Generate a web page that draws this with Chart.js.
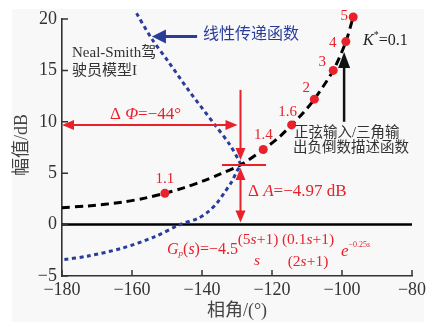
<!DOCTYPE html>
<html>
<head>
<meta charset="utf-8">
<script src="https://cdn.jsdelivr.net/npm/chart.js@4/dist/chart.umd.min.js"></script>
<style>
  html, body { margin: 0; padding: 0; background: #fff; }
  canvas { display: block; }
</style>
</head>
<body>
<canvas id="nichols" width="434" height="323"></canvas>
<script>
// 坐标轴刻度
const xTicks = [-180, -160, -140, -120, -100, -80];
const yTicks = [-5, 0, 5, 10, 15, 20];

// 线性传递函数 (Nichols 曲线)
const linPhase = [-158.7, -154.4, -149.6, -143.9, -136.3, -132.0, -129.6, -129.0, -130.1, -131.5, -133.4, -135.8, -138.2, -141.1, -146.3, -153.4, -162.9, -172.5, -180];
const linGain  = [20.55, 18.1, 15.85, 13.1, 9.7, 7.75, 6.3, 5.8, 5.16, 4.18, 3.21, 2.07, 1.26, 0.61, 0, -1.17, -2.3, -3.05, -3.43];

// 负倒数描述函数
const dfPhase = [-180, -172.5, -162.9, -156, -150.6, -145, -139.6, -134.9, -129.0, -122.5, -118, -114.4, -111, -107.9, -102.5, -98.9, -96.8];
const dfGain  = [1.65, 1.82, 2.17, 2.6, 3.05, 3.6, 4.25, 4.9, 5.8, 7.3, 8.5, 9.7, 10.9, 12.2, 15.0, 17.8, 20.2];

// 幅值标记点
const ampLabels = ['1.1', '1.4', '1.6', '2', '3', '4', '5'];
const ampPhase  = [-150.6, -122.5, -114.4, -107.9, -102.5, -98.9, -96.8];
const ampGain   = [3.05, 7.3, 9.7, 12.2, 15.0, 17.8, 20.2];
const ampLabelOffset = [[0, -14], [0, -14], [-4, -13], [-8, -11], [-11, -8], [-13, 1], [-9, -1]];

// 交点与裕度
const crossPhase = -129.0;
const crossGain = 5.8;

const RED = '#e8212b';
const BLUE = '#2a3c9a';
const SERIF = '"Liberation Serif", "Noto Sans CJK SC", serif';

function toPoints(xs, ys) {
    return xs.map((x, i) => ({ x: x, y: ys[i] }));
}

function arrowHead(ctx, x1, y1, x2, y2, len, hw) {
    const a = Math.atan2(y2 - y1, x2 - x1);
    ctx.beginPath();
    ctx.moveTo(x2, y2);
    ctx.lineTo(x2 - len * Math.cos(a) + hw * Math.sin(a), y2 - len * Math.sin(a) - hw * Math.cos(a));
    ctx.lineTo(x2 - len * Math.cos(a) - hw * Math.sin(a), y2 - len * Math.sin(a) + hw * Math.cos(a));
    ctx.closePath();
    ctx.fill();
}

function arrow(ctx, x1, y1, x2, y2, color, width, len, hw, both) {
    ctx.save();
    ctx.strokeStyle = color;
    ctx.fillStyle = color;
    ctx.lineWidth = width;
    const a = Math.atan2(y2 - y1, x2 - x1);
    const sx = both ? x1 + (len - 2) * Math.cos(a) : x1;
    const sy = both ? y1 + (len - 2) * Math.sin(a) : y1;
    ctx.beginPath();
    ctx.moveTo(sx, sy);
    ctx.lineTo(x2 - (len - 2) * Math.cos(a), y2 - (len - 2) * Math.sin(a));
    ctx.stroke();
    arrowHead(ctx, x1, y1, x2, y2, len, hw);
    if (both) arrowHead(ctx, x2, y2, x1, y1, len, hw);
    ctx.restore();
}

// 混排文字: [text, size, italic, dy]
function runs(ctx, x, y, parts, color, center) {
    ctx.save();
    ctx.fillStyle = color;
    ctx.textBaseline = 'middle';
    ctx.textAlign = 'left';
    let w = 0;
    parts.forEach(p => {
        ctx.font = (p[2] ? 'italic ' : '') + p[1] + 'px ' + SERIF;
        w += ctx.measureText(p[0]).width;
    });
    let cx = center ? x - w / 2 : x;
    parts.forEach(p => {
        ctx.font = (p[2] ? 'italic ' : '') + p[1] + 'px ' + SERIF;
        ctx.fillText(p[0], cx, y + (p[3] || 0));
        cx += ctx.measureText(p[0]).width;
    });
    ctx.restore();
}

function text(ctx, s, x, y, size, color, align) {
    ctx.save();
    ctx.font = size + 'px ' + SERIF;
    ctx.fillStyle = color;
    ctx.textAlign = align || 'left';
    ctx.textBaseline = 'middle';
    ctx.fillText(s, x, y);
    ctx.restore();
}

const decor = {
    id: 'decor',
    beforeDraw(chart) {
        const ctx = chart.ctx;
        ctx.save();
        ctx.fillStyle = '#fff';
        ctx.fillRect(0, 0, chart.width, chart.height);
        ctx.fillStyle = '#f8f8f8';
        ctx.fillRect(12, 9, 412, 313);
        ctx.restore();
    },
    afterDatasetsDraw(chart) {
        const ctx = chart.ctx;
        const xs = chart.scales.x, ys = chart.scales.y;
        const px = v => xs.getPixelForValue(v);
        const py = v => ys.getPixelForValue(v);
        const area = chart.chartArea;

        // 向内的刻度线
        ctx.save();
        ctx.strokeStyle = '#333';
        ctx.lineWidth = 1.5;
        ctx.beginPath();
        xTicks.forEach(v => { ctx.moveTo(px(v), area.bottom); ctx.lineTo(px(v), area.bottom - 6); });
        yTicks.forEach(v => { ctx.moveTo(area.left, py(v)); ctx.lineTo(area.left + 6, py(v)); });
        ctx.stroke();
        ctx.restore();

        // 幅值标签
        chart.getDatasetMeta(0).data.forEach((pt, i) => {
            const o = ampLabelOffset[i];
            text(ctx, ampLabels[i], pt.x + o[0], pt.y + o[1], 15, RED, 'center');
        });

        // 相位裕度 / 幅值裕度
        const cx = px(crossPhase), cy = py(crossGain);
        arrow(ctx, cx - 3, py(9.7), area.left, py(9.7), RED, 2, 12, 5, true);
        arrow(ctx, cx, py(13.1), cx, cy - 5, RED, 2, 12, 5, false);
        ctx.save();
        ctx.strokeStyle = RED;
        ctx.lineWidth = 2;
        ctx.beginPath();
        ctx.moveTo(px(-134.3), cy);
        ctx.lineTo(px(-121.7), cy);
        ctx.stroke();
        ctx.restore();
        arrow(ctx, cx, cy + 3, cx, py(0.2), RED, 2, 12, 5, true);

        runs(ctx, 110, 115, [['Δ ', 17], ['Φ', 17, true], ['=−44°', 17]], RED);
        runs(ctx, 248, 192, [['Δ ', 17], ['A', 17, true], ['=−4.97 dB', 17]], RED);

        // 传递函数表达式
        runs(ctx, 167, 250, [['G', 16, true], ['p', 9, true, 4], ['(', 16], ['s', 16, true], [')=−4.5', 16]], RED);
        runs(ctx, 258, 240, [['(5', 15.5], ['s', 15.5, true], ['+1)', 15.5]], RED, true);
        runs(ctx, 257, 261, [['s', 15.5, true]], RED, true);
        runs(ctx, 308, 240, [['(0.1', 15.5], ['s', 15.5, true], ['+1)', 15.5]], RED, true);
        runs(ctx, 308, 262, [['(2', 15.5], ['s', 15.5, true], ['+1)', 15.5]], RED, true);
        runs(ctx, 341, 252, [['e', 17, true], ['−0.25', 8, false, -7], ['s', 8, true, -7]], RED);

        // 线性传递函数说明
        arrow(ctx, px(-141.4), py(18.3), px(-154.3), py(18.3), BLUE, 3, 14, 7, false);
        text(ctx, '线性传递函数', 203, 35, 16, BLUE);

        // 描述函数说明
        arrow(ctx, px(-99.4), py(10.0), px(-99.4), py(16.8), '#111', 2.5, 16, 6, false);
        text(ctx, '正弦输入/三角输', 294, 133, 14.5, '#333');
        text(ctx, '出负倒数描述函数', 293, 148, 14.5, '#333');
        runs(ctx, 363, 41, [['K', 16, true], ['*', 10, false, -6], ['=0.1', 16]], '#222');

        text(ctx, 'Neal-Smith驾', 72, 53, 15, '#333');
        text(ctx, '驶员模型I', 72, 71, 15, '#333');

        // 坐标轴标题
        text(ctx, '相角/(°)', 237, 311, 18, '#444', 'center');
        ctx.save();
        ctx.translate(22, 145);
        ctx.rotate(-Math.PI / 2);
        text(ctx, '幅值/dB', 0, 0, 18, '#444', 'center');
        ctx.restore();
    }
};

const tickLabel = v => String(v).replace('-', '−');

new Chart(document.getElementById('nichols'), {
    type: 'scatter',
    data: {
        datasets: [{
            label: '幅值',
            data: toPoints(ampPhase, ampGain),
            pointRadius: 4.5,
            pointBackgroundColor: RED,
            pointBorderWidth: 0,
            showLine: false,
            clip: false
        }, {
            label: '负倒数描述函数',
            data: toPoints(dfPhase, dfGain),
            showLine: true,
            borderColor: '#000',
            borderWidth: 3,
            borderDash: [8, 5],
            tension: 0.3,
            pointRadius: 0,
            clip: false
        }, {
            label: '线性传递函数',
            data: toPoints(linPhase, linGain),
            showLine: true,
            borderColor: BLUE,
            borderWidth: 3,
            borderDash: [4, 3.5],
            tension: 0.3,
            pointRadius: 0,
            clip: false
        }, {
            label: '0 dB',
            data: toPoints([-180, -80], [0, 0]),
            showLine: true,
            borderColor: '#000',
            borderWidth: 2.5,
            pointRadius: 0
        }]
    },
    options: {
        responsive: false,
        animation: false,
        devicePixelRatio: 1,
        layout: { padding: { top: 19, right: 22, left: 0, bottom: 0 } },
        plugins: { legend: { display: false }, tooltip: { enabled: false } },
        scales: {
            x: {
                type: 'linear',
                min: -180, max: -80,
                afterFit: s => { s.height = 47; },
                afterBuildTicks: s => { s.ticks = xTicks.map(v => ({ value: v })); },
                grid: { drawOnChartArea: false, drawTicks: false },
                border: { color: '#333', width: 1.6 },
                ticks: { padding: 3, color: '#333', font: { family: SERIF, size: 18 }, callback: tickLabel }
            },
            y: {
                type: 'linear',
                min: -5, max: 20,
                afterFit: s => { s.width = 62; },
                afterBuildTicks: s => { s.ticks = yTicks.map(v => ({ value: v })); },
                grid: { drawOnChartArea: false, drawTicks: false },
                border: { color: '#333', width: 1.6 },
                ticks: { padding: 5, color: '#333', font: { family: SERIF, size: 18 }, callback: tickLabel }
            }
        }
    },
    plugins: [decor]
});
</script>
</body>
</html>
